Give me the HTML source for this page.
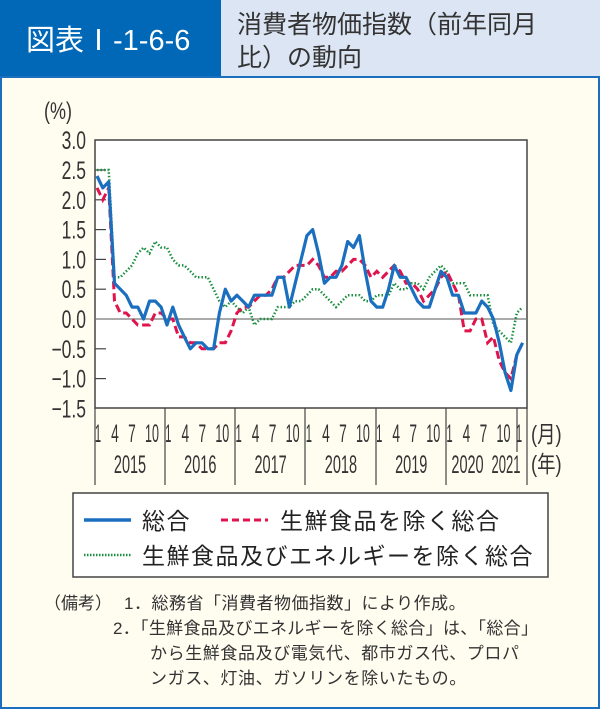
<!DOCTYPE html>
<html><head><meta charset="utf-8"><style>
body{margin:0;width:600px;height:709px;overflow:hidden;background:#fff;}
svg{display:block}
text{font-family:"Liberation Sans","Noto Sans CJK JP",sans-serif;}
</style></head><body>
<svg width="600" height="709" viewBox="0 0 600 709" xmlns="http://www.w3.org/2000/svg">
<rect x="0" y="0" width="600" height="709" fill="#fff"/>
<rect x="0" y="0" width="221" height="77" fill="#0068b7"/>
<rect x="221" y="0" width="379" height="77" fill="#dce5f3"/>
<text x="26" y="50" font-size="29" fill="#fff">図表Ⅰ-1-6-6</text>
<text x="237" y="33" font-size="25" fill="#333">消費者物価指数（前年同月</text>
<text x="237" y="66" font-size="25" fill="#333">比）の動向</text>
<rect x="1" y="77" width="598" height="631" fill="#fffdf0" stroke="#1a6fbf" stroke-width="2"/>
<rect x="95" y="140" width="432" height="268" fill="#fff" stroke="#444" stroke-width="1.5"/>
<g id="yl" font-size="25" fill="#333" text-anchor="end"></g>
<text transform="translate(44,119) scale(0.75,1)" font-size="24" fill="#333">(%)</text>
<line x1="95" y1="319" x2="527" y2="319" stroke="#777" stroke-width="1.2"/>
<g id="ticks" stroke="#444" stroke-width="1.2"></g>
<g id="series"></g>
<g id="xl" font-size="25" fill="#333" text-anchor="middle"></g>
<text transform="translate(531,442) scale(0.8,1)" font-size="23" fill="#333">(月)</text>
<text transform="translate(531,472) scale(0.8,1)" font-size="23" fill="#333">(年)</text>
<rect x="73" y="493" width="475" height="84" fill="#fff" stroke="#444" stroke-width="1.5"/>
<line x1="84" y1="520" x2="131" y2="520" stroke="#1a6fbf" stroke-width="3.5"/>
<text x="142" y="529" font-size="23" letter-spacing="1.5" fill="#222">総合</text>
<line x1="221" y1="520" x2="268" y2="520" stroke="#e0144c" stroke-width="3" stroke-dasharray="7,4"/>
<text x="280" y="529" font-size="23" letter-spacing="1.5" fill="#222">生鮮食品を除く総合</text>
<line x1="84" y1="555" x2="131" y2="555" stroke="#1a9040" stroke-width="2.5" stroke-dasharray="1.5,1.5"/>
<text x="142" y="564" font-size="23" letter-spacing="1.5" fill="#222">生鮮食品及びエネルギーを除く総合</text>
<g font-size="17" fill="#333">
<text x="44" y="609">（備考）</text>
<text x="124" y="609" letter-spacing="0.5">1．総務省「消費者物価指数」により作成。</text>
<text x="113" y="634" letter-spacing="0.3">2．「生鮮食品及びエネルギーを除く総合」は、「総合」</text>
<text x="150" y="659" letter-spacing="0.6">から生鮮食品及び電気代、都市ガス代、プロパ</text>
<text x="150" y="684" letter-spacing="0.6">ンガス、灯油、ガソリンを除いたもの。</text>
</g>
</svg>
<script>
const ns="http://www.w3.org/2000/svg";
function el(p,t,a,txt){const e=document.createElementNS(ns,t);for(const k in a)e.setAttribute(k,a[k]);if(txt!==undefined)e.textContent=txt;document.getElementById(p).appendChild(e);return e;}
const Y=v=>319-v*59.6, X=i=>97+i*5.83;
for(let v=3;v>=-1.5;v-=0.5){el("yl","text",{transform:`translate(86,${Y(v)+9}) scale(0.7,1)`},(v<0?"−":"")+Math.abs(v).toFixed(1));
 if(v<3&&v>-1.5&&v!==0)el("ticks","line",{x1:95,y1:Y(v),x2:106,y2:Y(v)});}
const seps=[165,235,305,376,446,527];
seps.forEach(x=>el("ticks","line",{x1:x,y1:408,x2:x,y2:485}));
el("ticks","line",{x1:95,y1:408,x2:95,y2:485});
el("ticks","line",{x1:517,y1:408,x2:517,y2:452});
const lab=(x,y,s,sx)=>el("xl","text",{transform:`translate(${x},${y}) scale(${sx},1)`},s);
const yrs=["2015","2016","2017","2018","2019","2020"];
for(let y=0;y<6;y++){const b=95+y*70.3;
 lab(b+3,442,"1",0.45);lab(b+20,442,"4",0.55);lab(b+37,442,"7",0.55);lab(b+57,442,"10",0.5);
 lab(y<5?b+35:b+21,473,yrs[y],0.58);}
lab(519,442,"1",0.45);lab(506,473,"2021",0.52);
const tot=[2.4,2.2,2.3,0.6,0.5,0.4,0.2,0.2,0.0,0.3,0.3,0.2,-0.1,0.2,-0.1,-0.3,-0.5,-0.4,-0.4,-0.5,-0.5,0.1,0.5,0.3,0.4,0.3,0.2,0.4,0.4,0.4,0.4,0.7,0.7,0.2,0.6,1.0,1.4,1.5,1.1,0.6,0.7,0.7,0.9,1.3,1.2,1.4,0.8,0.3,0.2,0.2,0.5,0.9,0.7,0.7,0.5,0.3,0.2,0.2,0.5,0.8,0.7,0.4,0.4,0.1,0.1,0.1,0.3,0.2,0.0,-0.4,-0.9,-1.2,-0.6,-0.4];
const core=[2.2,2.0,2.2,0.3,0.1,0.1,0.0,-0.1,-0.1,-0.1,0.1,0.1,0.0,0.0,-0.3,-0.3,-0.4,-0.4,-0.5,-0.5,-0.5,-0.4,-0.4,-0.2,0.1,0.2,0.2,0.3,0.4,0.4,0.5,0.7,0.7,0.8,0.9,0.9,0.9,1.0,0.9,0.7,0.7,0.8,0.8,0.9,1.0,1.0,0.9,0.7,0.8,0.7,0.8,0.9,0.8,0.6,0.6,0.5,0.3,0.4,0.5,0.7,0.8,0.6,0.4,-0.2,-0.2,0.0,0.0,-0.4,-0.3,-0.7,-0.9,-1.0,-0.6,-0.4];
const cc=[2.5,2.5,2.5,0.7,0.7,0.8,0.9,1.1,1.2,1.1,1.3,1.2,1.2,1.0,0.9,0.9,0.8,0.7,0.7,0.7,0.5,0.3,0.2,0.3,0.2,0.1,0.2,-0.1,0.0,0.0,0.0,0.2,0.2,0.2,0.3,0.3,0.4,0.5,0.5,0.4,0.3,0.2,0.3,0.4,0.4,0.4,0.3,0.3,0.4,0.4,0.4,0.6,0.5,0.5,0.6,0.6,0.5,0.7,0.8,0.9,0.8,0.6,0.6,0.6,0.4,0.4,0.4,0.4,-0.1,-0.2,-0.3,-0.4,0.1,0.2];
const pts=a=>a.map((v,i)=>X(i).toFixed(1)+","+Y(v).toFixed(1)).join(" ");
el("series","polyline",{points:pts(cc),fill:"none",stroke:"#1a9040","stroke-width":2.5,"stroke-dasharray":"1.5,2"});
el("series","polyline",{points:pts(core),fill:"none",stroke:"#e0144c","stroke-width":3,"stroke-dasharray":"8,4"});
el("series","polyline",{points:pts(tot),fill:"none",stroke:"#1a6fbf","stroke-width":3.2,"stroke-linejoin":"round"});
</script>
</body></html>
